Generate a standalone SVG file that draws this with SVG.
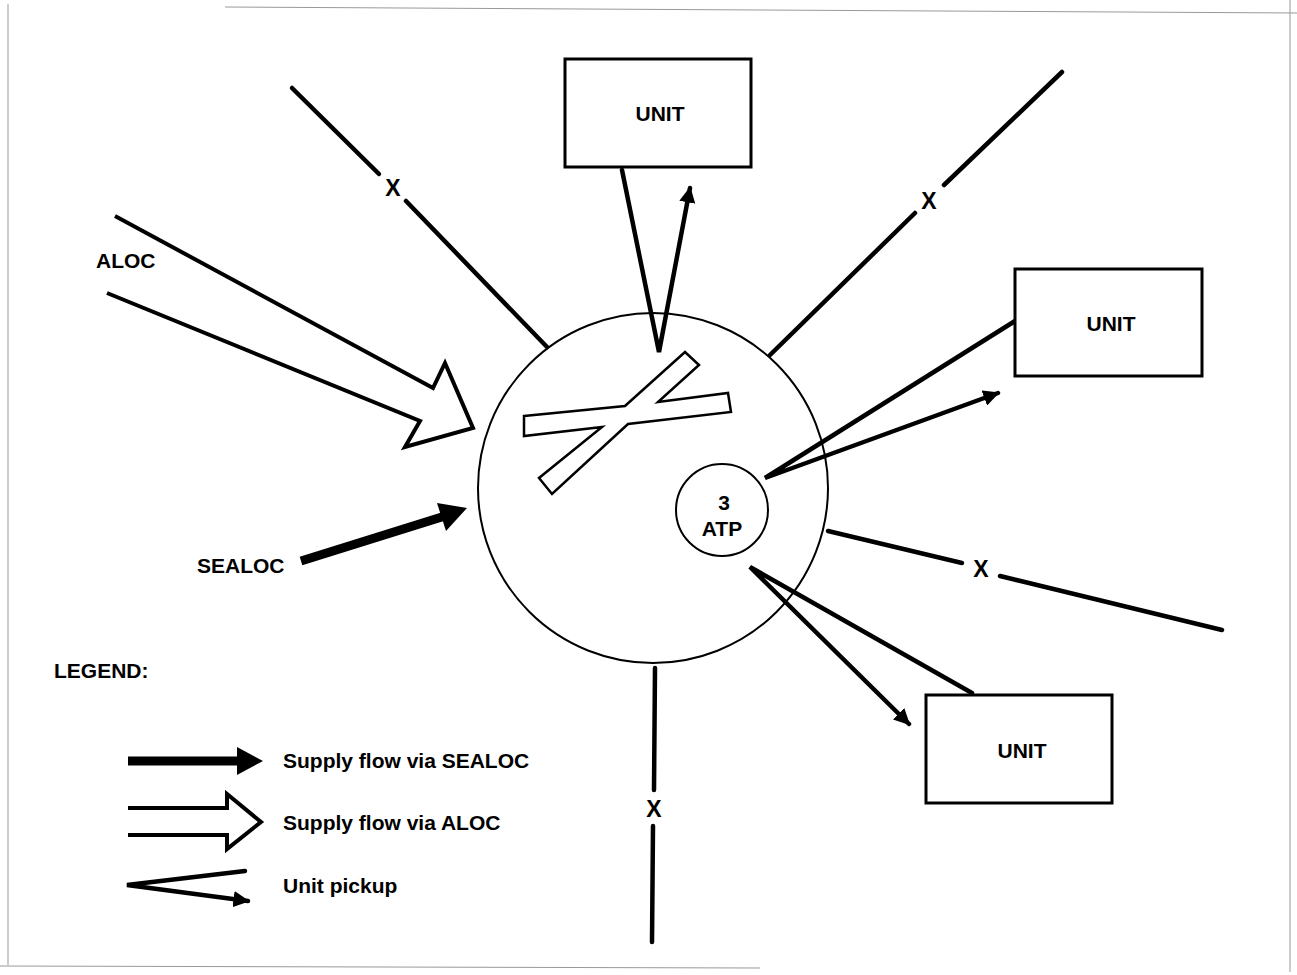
<svg xmlns="http://www.w3.org/2000/svg" width="1297" height="975" viewBox="0 0 1297 975">
  <style>
    .lbl { font-family: "Liberation Sans", Arial, sans-serif; font-weight: bold; font-size: 21px; fill: #000; }
    .x { font-family: "Liberation Sans", Arial, sans-serif; font-weight: bold; font-size: 23px; fill: #000; text-anchor: middle; }
    .box { fill: #fff; stroke: #000; stroke-width: 3; }
    .ring { fill: none; stroke: #000; stroke-width: 2; }
    .road { stroke: #000; stroke-width: 4.5; stroke-linecap: round; fill: none; }
    .pick { stroke: #000; stroke-width: 4.5; stroke-linecap: round; fill: none; }
    .hollow { fill: #fff; stroke: #000; stroke-width: 4; stroke-linejoin: miter; }
    .frame { stroke: #999; stroke-width: 1; fill: none; }
  </style>
  <defs>
    <marker id="pickHead" viewBox="0 0 10 10" refX="9" refY="5" markerWidth="3.6" markerHeight="3.6" orient="auto" markerUnits="strokeWidth">
      <path d="M0,0 L10,5 L0,10 Z" fill="#000"/>
    </marker>
  </defs>

  <!-- page frame -->
  <g id="frame">
    <line class="frame" x1="8" y1="4" x2="8" y2="965"/>
    <line class="frame" x1="225" y1="7" x2="1297" y2="13"/>
    <line class="frame" x1="1290" y1="0" x2="1290" y2="972"/>
    <line class="frame" x1="0" y1="966" x2="760" y2="968"/>
  </g>

  <!-- connectors: access roads, supply flows and pickups -->
  <g id="connectors">
    <!-- roads marked X -->
    <line class="road" x1="292" y1="88" x2="379" y2="174"/>
    <line class="road" x1="406" y1="201" x2="547" y2="347"/>
    <line class="road" x1="1062" y1="72" x2="944" y2="185"/>
    <line class="road" x1="915" y1="213" x2="770" y2="355"/>
    <line class="road" x1="828" y1="531" x2="962" y2="563"/>
    <line class="road" x1="1000" y1="576" x2="1222" y2="630"/>
    <line class="road" x1="655" y1="668" x2="654" y2="790"/>
    <line class="road" x1="653" y1="826" x2="652" y2="942"/>

    <!-- ALOC supply flow (hollow arrow) -->
    <path class="hollow" d="M115,216 L433,388 L445,363 L473,428 L405,447 L420,421 L107,293" fill="none"/>

    <!-- SEALOC supply flow (solid arrow) -->
    <line x1="301" y1="561" x2="445" y2="516" stroke="#000" stroke-width="9"/>
    <path d="M437,503 L467,508 L446,531 Z" fill="#000"/>

    <!-- unit pickups -->
    <path class="pick" d="M622,170 L659,352 L690,188" marker-end="url(#pickHead)"/>
    <path class="pick" d="M1015,321 L765,478 L998,393" marker-end="url(#pickHead)"/>
    <path class="pick" d="M972,693 L750,567 L909,724" marker-end="url(#pickHead)"/>
  </g>

  <!-- X marks on roads -->
  <g id="road-marks">
    <text class="x" x="393" y="196">X</text>
    <text class="x" x="929" y="209">X</text>
    <text class="x" x="981" y="577">X</text>
    <text class="x" x="654" y="817">X</text>
  </g>

  <!-- main support area -->
  <g id="support-area">
    <circle class="ring" cx="653" cy="488" r="175"/>
    <!-- crossed runway -->
    <path d="M524,416 L625,406 L685,352 L699,365 L658,402 L728,393 L731,412 L628,424 L552,494 L539,478 L602,427 L524,436 Z" fill="#fff" stroke="#000" stroke-width="2.5" stroke-linejoin="miter"/>
  </g>

  <g id="atp">
    <circle class="ring" cx="722" cy="510" r="46"/>
    <text class="lbl" x="724" y="510" text-anchor="middle" font-size="18">3</text>
    <text class="lbl" x="722" y="536" text-anchor="middle" font-size="18">ATP</text>
  </g>

  <g id="unit-top">
    <rect class="box" x="565" y="59" width="186" height="108"/>
    <text class="lbl" x="660" y="121" text-anchor="middle">UNIT</text>
  </g>
  <g id="unit-right">
    <rect class="box" x="1015" y="269" width="187" height="107"/>
    <text class="lbl" x="1111" y="331" text-anchor="middle">UNIT</text>
  </g>
  <g id="unit-bottom">
    <rect class="box" x="926" y="695" width="186" height="108"/>
    <text class="lbl" x="1022" y="758" text-anchor="middle">UNIT</text>
  </g>

  <!-- source labels -->
  <g id="labels">
    <text class="lbl" x="96" y="268">ALOC</text>
    <text class="lbl" x="197" y="573">SEALOC</text>
  </g>

  <!-- legend -->
  <g id="legend">
    <text class="lbl" x="54" y="678">LEGEND:</text>
    <line x1="128" y1="761" x2="240" y2="761" stroke="#000" stroke-width="9"/>
    <path d="M237,747 L263,761 L237,775 Z" fill="#000"/>
    <text class="lbl" x="283" y="768">Supply flow via SEALOC</text>

    <path class="hollow" d="M128,808 L227,808 L227,794 L261,822 L227,849 L227,835 L128,835" fill="none"/>
    <text class="lbl" x="283" y="830">Supply flow via ALOC</text>

    <path class="pick" d="M245,871 L127,885 L248,901" marker-end="url(#pickHead)"/>
    <text class="lbl" x="283" y="893">Unit pickup</text>
  </g>
</svg>
